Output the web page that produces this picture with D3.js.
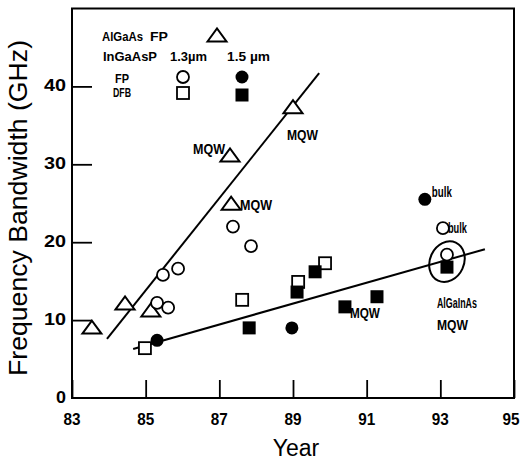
<!DOCTYPE html>
<html>
<head>
<meta charset="utf-8">
<script src="https://cdn.jsdelivr.net/npm/d3@7"></script>
<style>
  html, body { margin: 0; padding: 0; background: #fff; }
  svg { display: block; }
  text { font-family: "Liberation Sans Narrow", "Liberation Sans", Arial, sans-serif; fill: #000; }
</style>
</head>
<body>
<svg id="chart" width="521" height="465"></svg>
<script>
// ---------- data ----------
const xTicks = [83, 85, 87, 89, 91, 93, 95];
const yTicks = [0, 10, 20, 30, 40];

// AlGaAs FP (open triangles)
const algaasFP = [[83.54, 9.1], [84.44, 12.2], [85.14, 11.3], [87.32, 25.0], [87.29, 31.2], [89.0, 37.4]];
// InGaAsP 1.3 um FP (open circles)
const ingaasp13FP = [[87.37, 22.0], [87.86, 19.5], [85.47, 15.8], [85.88, 16.6], [85.31, 12.2], [85.61, 11.6], [93.07, 21.8], [93.18, 18.4]];
// InGaAsP 1.5 um FP (filled circles)
const ingaasp15FP = [[85.31, 7.4], [88.97, 9.0], [92.58, 25.5]];
// InGaAsP 1.3 um DFB (open squares)
const ingaasp13DFB = [[84.98, 6.4], [87.62, 12.6], [89.14, 14.9], [89.87, 17.3]];
// InGaAsP 1.5 um DFB (filled squares)
const ingaasp15DFB = [[87.81, 9.0], [89.11, 13.6], [89.6, 16.2], [90.41, 11.7], [91.28, 13.0], [93.18, 16.8]];

// trend lines
const steepLine = [[83.95, 7.6], [89.71, 41.7]];
const shallowLine = [[84.66, 6.3], [94.21, 19.1]];

// highlighted AlGaInAs MQW point (ellipse centre)
const highlight = [93.18, 17.5];

// annotations: text, anchored data point
const annotations = [
  { text: "MQW", at: [87.29, 31.2], dx: -37, dy: -1, w: 32 },
  { text: "MQW", at: [89.0, 37.4], dx: -6, dy: 33, w: 31 },
  { text: "MQW", at: [87.32, 25.0], dx: 9, dy: 7, w: 32 },
  { text: "MQW", at: [90.41, 11.7], dx: 5, dy: 11, w: 30 },
  { text: "bulk", at: [92.58, 25.5], dx: 7, dy: -2, w: 20 },
  { text: "bulk", at: [93.07, 21.8], dx: 5, dy: 5, w: 19 },
  { text: "AlGaInAs", at: [93.18, 16.8], dx: -10, dy: 41, w: 40 },
  { text: "MQW", at: [93.18, 16.8], dx: -10, dy: 63, w: 31 }
];

// ---------- chart ----------
const svg = d3.select("#chart");
const L = 72, R = 514, T = 8.5, B = 398;
const x = d3.scaleLinear().domain([83, 95]).range([L, R]);
const y = d3.scaleLinear().domain([0, 50]).range([B, T]);

// frame
svg.append("rect").attr("x", L).attr("y", T).attr("width", R - L).attr("height", B - T)
  .attr("fill", "none").attr("stroke", "#000").attr("stroke-width", 2);

// axes with inward ticks
const xAxis = svg.append("g").attr("transform", `translate(0,${B})`)
  .call(d3.axisTop(x).tickValues(xTicks).tickSize(18).tickFormat(""));
xAxis.select(".domain").remove();
xAxis.selectAll("line").attr("stroke-width", 1.8);

const yAxis = svg.append("g").attr("transform", `translate(${L},0)`)
  .call(d3.axisRight(y).tickValues(yTicks.filter(d => d > 0)).tickSize(20).tickFormat(""));
yAxis.select(".domain").remove();
yAxis.selectAll("line").attr("stroke-width", 1.8);

// tick labels
svg.append("g").selectAll("text").data(xTicks).join("text")
  .attr("x", d => Math.min(x(d), 511)).attr("y", 425)
  .attr("text-anchor", "middle")
  .attr("font-size", 17).attr("font-weight", "bold")
  .attr("textLength", 17).attr("lengthAdjust", "spacingAndGlyphs")
  .text(d => d);

svg.append("g").selectAll("text").data(yTicks).join("text")
  .attr("x", 66).attr("y", d => y(d) + 5)
  .attr("text-anchor", "end")
  .attr("font-size", 17).attr("font-weight", "bold")
  .attr("textLength", d => d === 0 ? 10 : 22).attr("lengthAdjust", "spacingAndGlyphs")
  .text(d => d);

// axis titles
svg.append("text").attr("x", 296).attr("y", 456).attr("text-anchor", "middle")
  .attr("font-size", 23).style("font-family", "Liberation Sans, Arial, sans-serif").text("Year");
svg.append("text")
  .attr("transform", "translate(27,208) rotate(-90)")
  .attr("text-anchor", "middle").attr("font-size", 25)
  .attr("textLength", 336).attr("lengthAdjust", "spacingAndGlyphs")
  .style("font-family", "Liberation Sans, Arial, sans-serif")
  .text("Frequency Bandwidth (GHz)");

// trend lines
const line = d3.line().x(d => x(d[0])).y(d => y(d[1]));
svg.append("path").datum(steepLine).attr("d", line).attr("stroke", "#000").attr("stroke-width", 2).attr("fill", "none");
svg.append("path").datum(shallowLine).attr("d", line).attr("stroke", "#000").attr("stroke-width", 2).attr("fill", "none");

// ellipse
svg.append("ellipse")
  .attr("transform", `translate(${x(highlight[0])},${y(highlight[1])}) rotate(25)`)
  .attr("rx", 17).attr("ry", 21)
  .attr("fill", "none").attr("stroke", "#000").attr("stroke-width", 2);

// markers
function triPath(cx, cy) {
  const w = 9.5, h = 6.5;
  return `M${cx - w},${cy + h}L${cx},${cy - h}L${cx + w},${cy + h}Z`;
}
const marks = svg.append("g");
marks.selectAll(".tri").data(algaasFP).join("path")
  .attr("d", d => triPath(x(d[0]), y(d[1])))
  .attr("fill", "#fff").attr("stroke", "#000").attr("stroke-width", 2);
marks.selectAll(".oc").data(ingaasp13FP).join("circle")
  .attr("cx", d => x(d[0])).attr("cy", d => y(d[1])).attr("r", 6)
  .attr("fill", "#fff").attr("stroke", "#000").attr("stroke-width", 1.8);
marks.selectAll(".os").data(ingaasp13DFB).join("rect")
  .attr("x", d => x(d[0]) - 6).attr("y", d => y(d[1]) - 6).attr("width", 12).attr("height", 12)
  .attr("fill", "#fff").attr("stroke", "#000").attr("stroke-width", 1.8);
marks.selectAll(".fc").data(ingaasp15FP).join("circle")
  .attr("cx", d => x(d[0])).attr("cy", d => y(d[1])).attr("r", 6.5)
  .attr("fill", "#000");
marks.selectAll(".fs").data(ingaasp15DFB).join("rect")
  .attr("x", d => x(d[0]) - 6.5).attr("y", d => y(d[1]) - 6.5).attr("width", 13).attr("height", 13)
  .attr("fill", "#000");

// annotations
svg.append("g").selectAll("text").data(annotations).join("text")
  .attr("x", d => x(d.at[0]) + d.dx).attr("y", d => y(d.at[1]) + d.dy)
  .attr("font-size", 14).attr("font-weight", "bold")
  .attr("textLength", d => d.w).attr("lengthAdjust", "spacingAndGlyphs")
  .text(d => d.text);

// legend
const lg = svg.append("g").attr("font-size", 13).attr("font-weight", "bold");
const legendText = [
  { t: "AlGaAs", x: 102, y: 41, w: 41 },
  { t: "FP", x: 150, y: 41, w: 18 },
  { t: "InGaAsP", x: 103, y: 61, w: 54 },
  { t: "1.3\u00b5m", x: 170, y: 61, w: 37 },
  { t: "1.5 \u00b5m", x: 227, y: 61, w: 43 },
  { t: "FP", x: 115, y: 83, w: 14 },
  { t: "DFB", x: 113, y: 97, w: 18 }
];
lg.selectAll("text").data(legendText).join("text")
  .attr("x", d => d.x).attr("y", d => d.y)
  .attr("textLength", d => d.w).attr("lengthAdjust", "spacingAndGlyphs")
  .text(d => d.t);
lg.append("path").attr("d", triPath(217, 35)).attr("fill", "#fff").attr("stroke", "#000").attr("stroke-width", 2);
lg.append("circle").attr("cx", 183).attr("cy", 77).attr("r", 6).attr("fill", "#fff").attr("stroke", "#000").attr("stroke-width", 1.8);
lg.append("circle").attr("cx", 242).attr("cy", 77).attr("r", 6.5).attr("fill", "#000");
lg.append("rect").attr("x", 177).attr("y", 87).attr("width", 12).attr("height", 12).attr("fill", "#fff").attr("stroke", "#000").attr("stroke-width", 1.8);
lg.append("rect").attr("x", 235.5).attr("y", 88.5).attr("width", 13).attr("height", 13).attr("fill", "#000");
</script>
</body>
</html>
